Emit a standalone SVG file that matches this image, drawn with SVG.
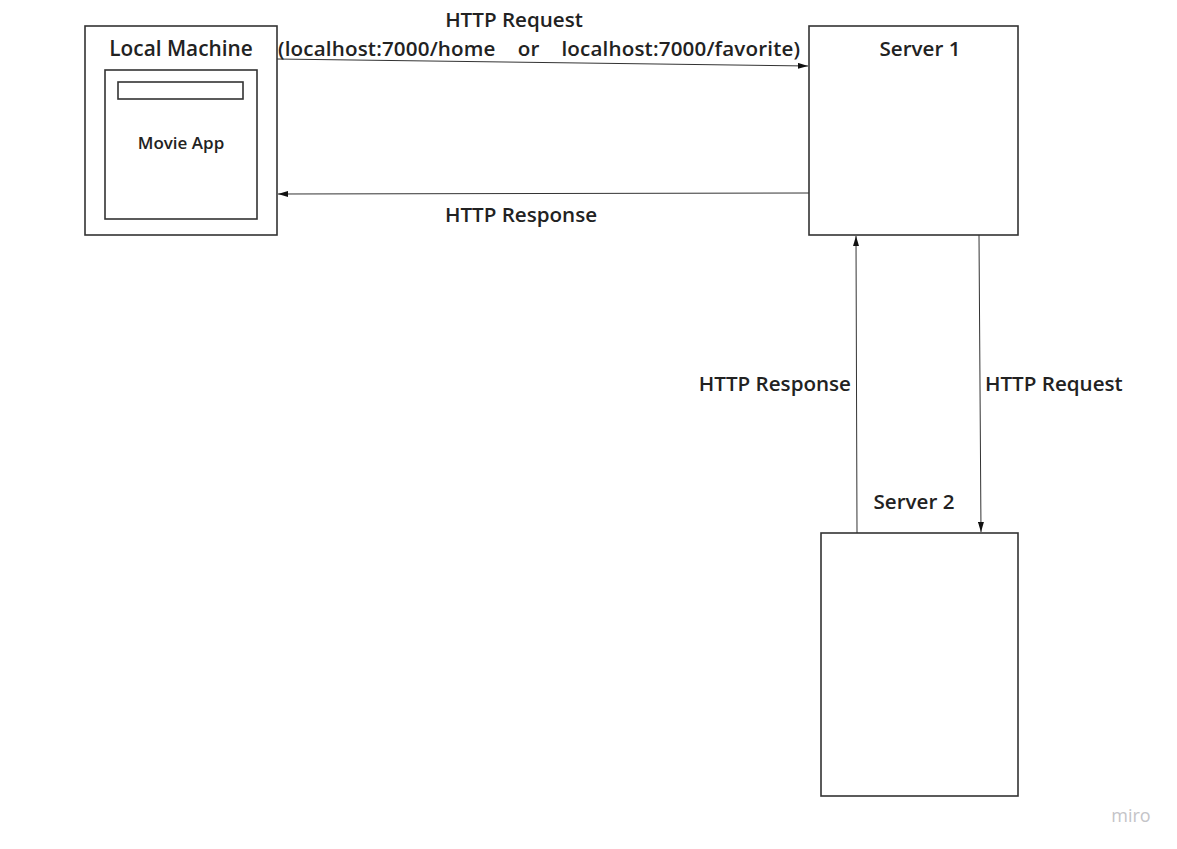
<svg xmlns="http://www.w3.org/2000/svg" width="1177" height="849" viewBox="0 0 1177 849">
<defs>
<style>
.box{fill:#fff;stroke:#333;stroke-width:1.6}
.lbl{font-family:"Open Sans","Noto Sans",sans-serif;font-weight:600;fill:#222;font-size:20.6px}
.conn{stroke:#333;stroke-width:1;fill:none;marker-end:url(#ah)}
</style>
<marker id="ah" viewBox="0 0 10 6" refX="10" refY="3" markerWidth="10" markerHeight="6" markerUnits="userSpaceOnUse" orient="auto">
<path d="M0,0 L10,3 L0,6 z" fill="#111"/>
</marker>
</defs>
<rect width="1177" height="849" fill="#fff"/>
<g id="local-machine">
<rect class="box" x="85" y="26" width="192" height="209"/>
<text class="lbl" x="181" y="56" text-anchor="middle" style="font-size:20.8px">Local Machine</text>
</g>
<g id="movie-app">
<rect class="box" x="105" y="70" width="152" height="149"/>
<rect class="box" x="118" y="82" width="125" height="17"/>
<text class="lbl" x="181" y="149" text-anchor="middle" style="font-size:17px">Movie App</text>
</g>
<g id="server1">
<rect class="box" x="809" y="26" width="209" height="209"/>
<text class="lbl" x="920" y="56" text-anchor="middle">Server 1</text>
</g>
<g id="server2">
<rect class="box" x="821" y="533" width="197" height="263"/>
<text class="lbl" x="914" y="509" text-anchor="middle">Server 2</text>
</g>
<g id="connectors">
<path class="conn" d="M277,59 L808,66"/>
<path class="conn" d="M809,193 L278,194"/>
<path class="conn" d="M857,533 L856,236"/>
<path class="conn" d="M979,235 L981,532"/>
<text class="lbl" x="514" y="27" text-anchor="middle">HTTP Request</text>
<text class="lbl" x="278" y="56" textLength="522" xml:space="preserve">(localhost:7000/home    or    localhost:7000/favorite)</text>
<text class="lbl" x="521" y="222" text-anchor="middle">HTTP Response</text>
<text class="lbl" x="851" y="391" text-anchor="end">HTTP Response</text>
<text class="lbl" x="985" y="391">HTTP Request</text>
</g>
<text x="1131" y="822" text-anchor="middle" style="font-family:'Open Sans',sans-serif;font-size:18px;fill:#c4c4c8">miro</text>
</svg>
